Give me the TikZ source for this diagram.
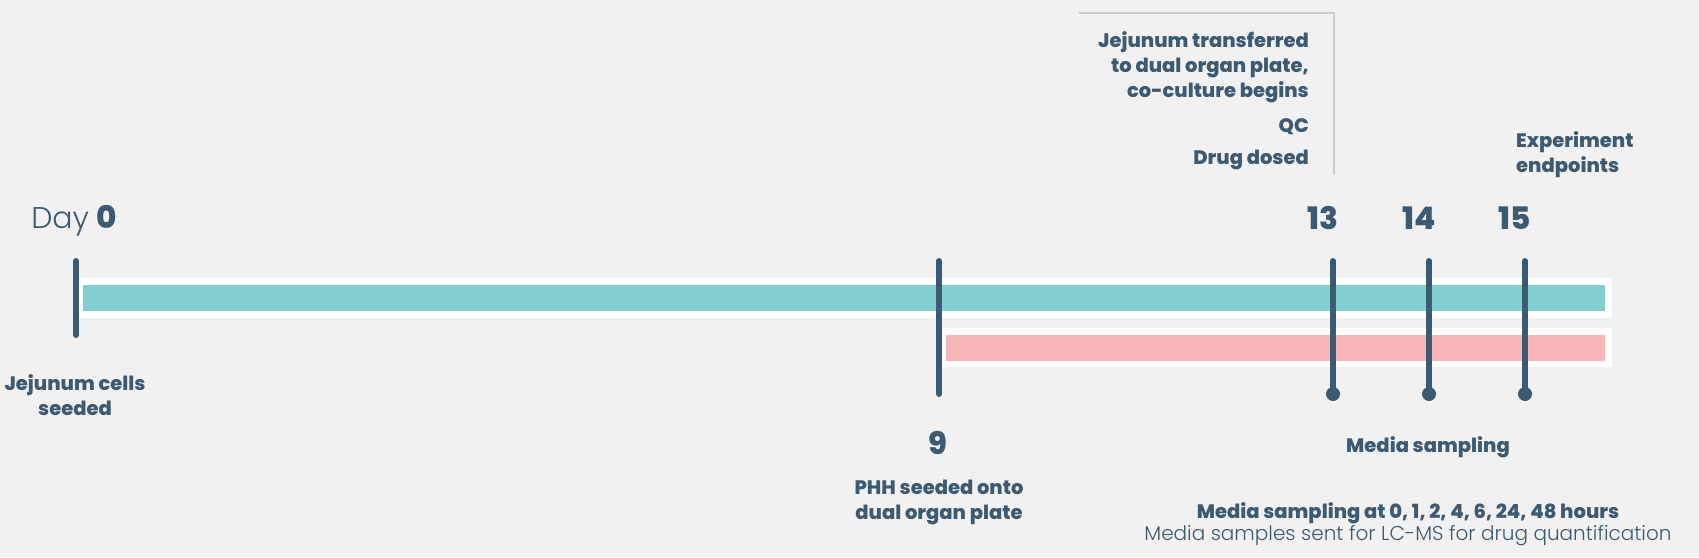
\documentclass[tikz,border=0pt]{standalone}
\usepackage{fontspec}
\setmainfont{Poppins}
\newfontfamily\lightfont{Poppins Light}
\newfontfamily\heavyfont{Poppins ExtraBold}
\definecolor{navy}{HTML}{3D5A73}
\definecolor{bgcol}{HTML}{F1F1F1}
\definecolor{tealbar}{HTML}{82CED1}
\definecolor{pinkbar}{HTML}{F7B5B8}
\definecolor{bracketgray}{HTML}{C9CDD0}
\tikzset{
 tick/.style={line width=6pt, line cap=round, draw=navy},
 daynum/.style={text=navy, font=\fontsize{31}{31}\selectfont\heavyfont, inner sep=0pt},
 label/.style={text=navy, font=\fontsize{19.5}{25}\selectfont\heavyfont, align=center, inner sep=0pt},
}
\begin{document}
\begin{tikzpicture}[x=1pt, y=-1pt]
 \fill[bgcol](0,0)rectangle(1699,557);
 \useasboundingbox(0,0)rectangle(1699,557);
 % bars
 \fill[white](76,278)rectangle(1612,318);
 \fill[tealbar](83,285)rectangle(1605,311);
 \fill[white](939,328)rectangle(1612,367);
 \fill[pinkbar](946,335)rectangle(1605,361);
 % day 0 and day 9
 \coordinate(t0a) at (76,261);
 \coordinate(t0b) at (76,335);
 \draw[tick](t0a)--(t0b);
 \coordinate(t9a) at (939,261);
 \coordinate(t9b) at (939,394);
 \draw[tick](t9a)--(t9b);
 \node[daynum, anchor=base east](d0) at (117,228){0};
 \node[text=navy, font=\fontsize{30}{30}\selectfont\lightfont, inner sep=0pt, anchor=base east](day) at ([xshift=-7pt]d0.base west){Day};
 \node[daynum](d9) at (938,443){9};
 \node[label](seed) at (75,395){Jejunum cells\\seeded};
 \node[label](phh) at (939,502){PHH seeded onto\\dual organ plate};
 % sampling days
 \foreach \d/\x in {13/1333,14/1429,15/1525}
 {
     \coordinate(t\d a) at (\x,261);
     \coordinate(t\d b) at (\x,394);
     \draw[tick](t\d a)--(t\d b);
     \fill[navy](t\d b)circle[radius=7pt];
     \node[daynum](d\d) at (\x-10,218){\d};
 }
 % top block
 \coordinate(brl) at (1079,13);
 \coordinate(brr) at (1334,175);
 \draw[bracketgray, line width=2.5pt](brl)-|(brr);
 \node[label, align=right, anchor=east](transfer) at (1309,67){Jejunum transferred\\to dual organ plate,\\co-culture begins};
 \node[label, anchor=east](qc) at (1309,127){QC};
 \node[label, anchor=east](dosed) at (1309,160){Drug dosed};
 \node[label, align=left, anchor=west](endp) at (1516,155){Experiment\\endpoints};
 \node[label](media) at (1428,447){Media sampling};
 \node[label](hours) at (1408,513){Media sampling at 0, 1, 2, 4, 6, 24, 48 hours};
 \node[text=navy, font=\fontsize{20}{26}\selectfont\lightfont, inner sep=0pt](lcms) at (1408,536){Media samples sent for LC-MS for drug quantification};
\end{tikzpicture}
\end{document}
